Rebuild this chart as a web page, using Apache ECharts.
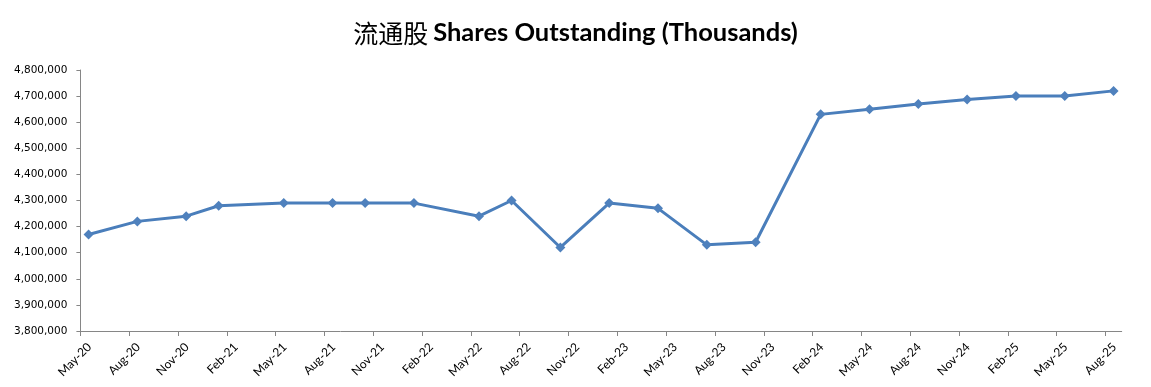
<!DOCTYPE html>
<html>
<head>
<meta charset="utf-8">
<script src="https://cdn.jsdelivr.net/npm/echarts@6/dist/echarts.min.js"></script>
<style>
html,body{margin:0;padding:0;background:#fff;}
#chart{width:1151px;height:387px;}
</style>
</head>
<body>
<div id="chart"></div>
<script>
// Data (month of each observation, shares outstanding in thousands)
const pointMonths = ['2020-05','2020-08','2020-11','2021-01','2021-05','2021-08','2021-10','2022-01',
  '2022-05','2022-07','2022-10','2023-01','2023-04','2023-07','2023-10','2024-02','2024-05','2024-08',
  '2024-11','2025-02','2025-05','2025-08'];
const shares = [4170000,4220000,4240000,4280000,4290000,4290000,4290000,4290000,
  4240000,4300000,4120000,4290000,4270000,4130000,4140000,4630000,4650000,4670000,
  4687000,4700000,4700000,4720000];
const tickLabels = ['May-20','Aug-20','Nov-20','Feb-21','May-21','Aug-21','Nov-21','Feb-22','May-22',
  'Aug-22','Nov-22','Feb-23','May-23','Aug-23','Nov-23','Feb-24','May-24','Aug-24','Nov-24',
  'Feb-25','May-25','Aug-25'];
const startMonth = '2020-05';
const monthsShown = 64; // May-20 .. Aug-25 inclusive

function monthIndex(s){
  const [y,m] = s.split('-').map(Number);
  const [y0,m0] = startMonth.split('-').map(Number);
  return (y - y0) * 12 + (m - m0);
}
const seriesData = pointMonths.map((m,i) => [monthIndex(m) + 0.5, shares[i]]);

const axisGray = '#868686';
const L = 80.4, R = 29.3, W = 1151 - L - R, M = W / monthsShown, SHIFT = 9;
const chart = echarts.init(document.getElementById('chart'), null, {renderer:'canvas'});
chart.setOption({
  animation:false,
  backgroundColor:'#ffffff',
  title:{
    left:'center', top:15,
    text:'{zh|流通股} {en|Shares Outstanding (Thousands)}',
    textStyle:{
      rich:{
        zh:{fontFamily:'"Noto Sans CJK SC"', fontSize:25, fontWeight:'normal', color:'#000'},
        en:{fontFamily:'Lato', fontSize:25.5, fontWeight:'bold', color:'#000'}
      }
    }
  },
  grid:[
    {left:L, right:R, top:70, bottom:56},
    {left:L, right:R + M, top:70, bottom:56},
    {left:L + SHIFT, right:R + M - SHIFT, top:70, bottom:56}
  ],
  xAxis:[
    {type:'value', gridIndex:0, min:0, max:monthsShown,
      axisLine:{show:true, onZero:false, lineStyle:{color:axisGray, width:1}},
      axisTick:{show:false}, axisLabel:{show:false}, splitLine:{show:false}},
    {type:'value', gridIndex:1, min:0, max:monthsShown - 1, interval:3,
      axisLine:{show:false, onZero:false},
      axisTick:{show:true, length:5, lineStyle:{color:axisGray}},
      axisLabel:{show:false}, splitLine:{show:false}},
    {type:'value', gridIndex:2, min:0, max:monthsShown - 1, interval:3,
      axisLine:{show:false, onZero:false}, axisTick:{show:false},
      axisLabel:{rotate:45, margin:14, fontFamily:'Lato', fontSize:12, color:'#000',
        formatter:function(v){ return v % 3 === 0 ? (tickLabels[v/3] || '') : ''; }},
      splitLine:{show:false}}
  ],
  yAxis:[
    {type:'value', gridIndex:0, min:3800000, max:4800000, interval:100000,
      axisLine:{show:true, lineStyle:{color:axisGray, width:1}},
      axisTick:{show:true, length:4, lineStyle:{color:axisGray}},
      axisLabel:{margin:13, fontFamily:'"DejaVu Sans"', fontSize:10.5, color:'#000',
        formatter:function(v){ return v.toLocaleString('en-US'); }},
      splitLine:{show:false}},
    {type:'value', gridIndex:1, show:false, min:3800000, max:4800000},
    {type:'value', gridIndex:2, show:false, min:3800000, max:4800000}
  ],
  series:[{
    type:'line', xAxisIndex:0, yAxisIndex:0,
    data:seriesData,
    symbol:'diamond', symbolSize:10,
    lineStyle:{color:'#4A7EBB', width:3},
    itemStyle:{color:'#4F81BD'}
  }]
});
</script>
</body>
</html>
